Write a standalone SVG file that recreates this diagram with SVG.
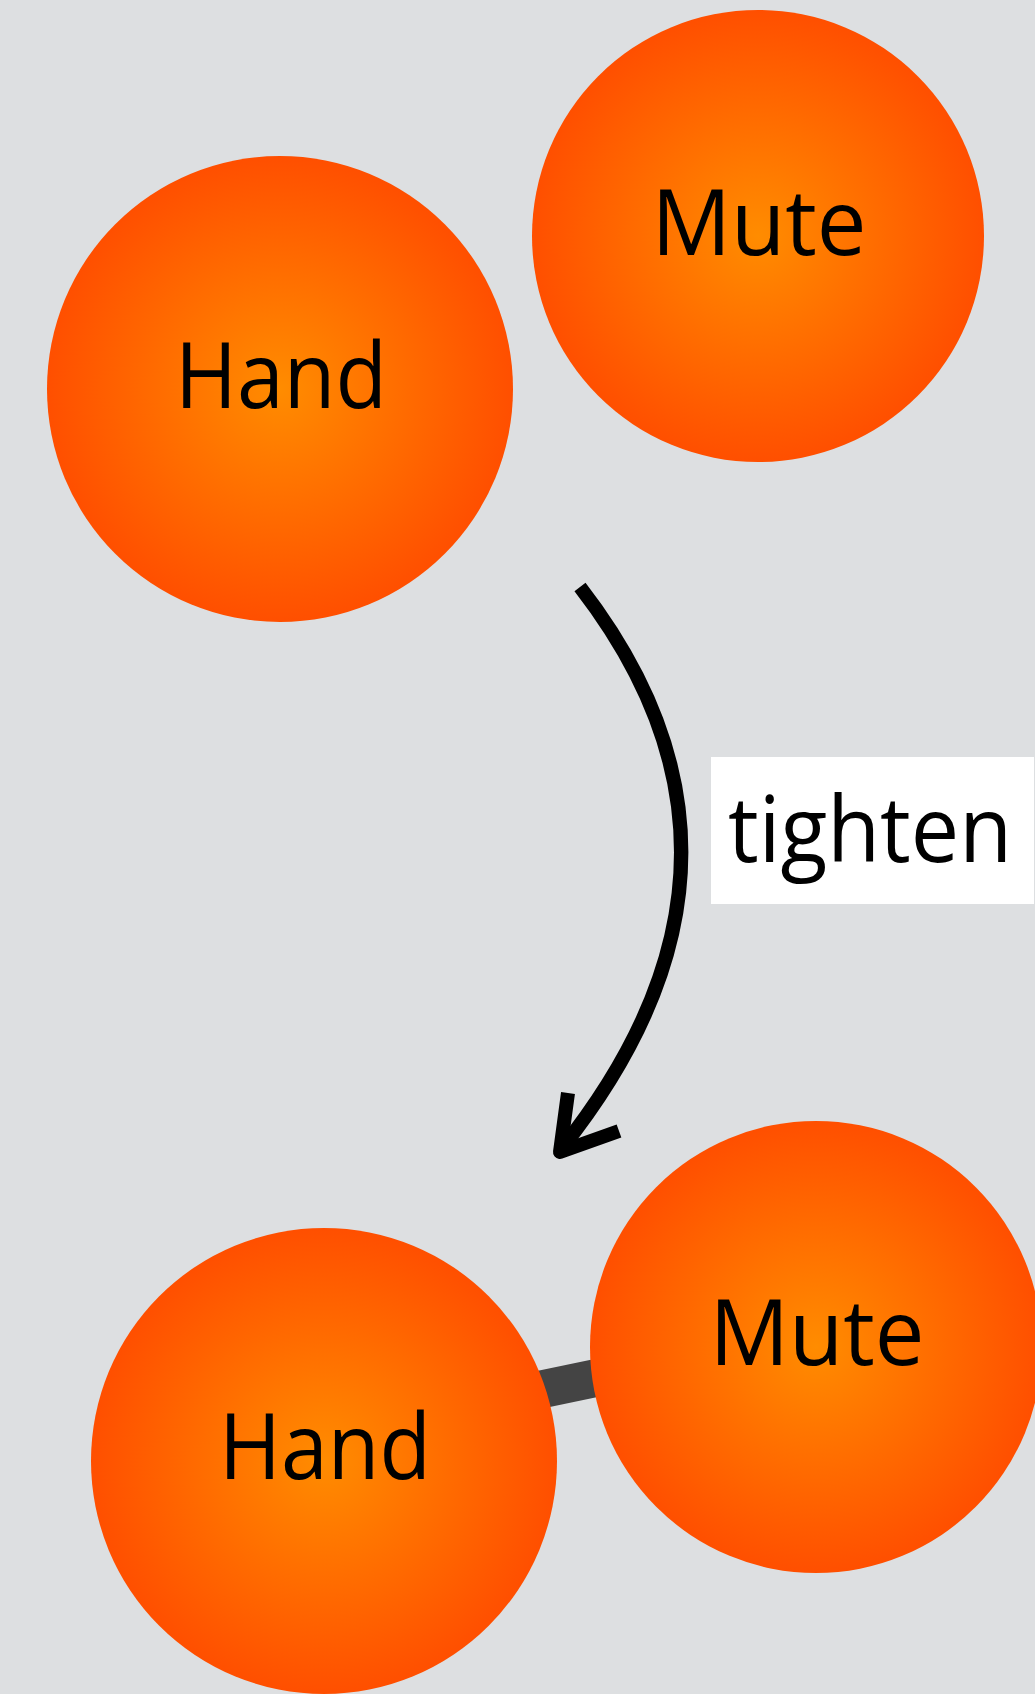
<svg xmlns="http://www.w3.org/2000/svg" width="1035" height="1694" viewBox="0 0 1035 1694">
<defs>
<radialGradient id="g" cx="50%" cy="50%" r="50%">
<stop offset="0" stop-color="#FF8C00"/>
<stop offset="1" stop-color="#FF4F00"/>
</radialGradient>
<style>
.node{fill:url(#g)}
.lbl{font-family:"Open Sans","Noto Sans",sans-serif;font-size:92px;fill:#000;text-anchor:middle}
.arr{fill:none;stroke:#000;stroke-width:14}
</style>
</defs>
<rect width="1035" height="1694" fill="#DDDFE1"/>
<g id="connectors">
<line x1="500" y1="1398" x2="620" y2="1373" stroke="#444444" stroke-width="38"/>
<path class="arr" d="M580,587 Q791,860 562,1148"/>
<polyline class="arr" points="568,1093 560,1152 619,1131" stroke-linejoin="round" stroke-linecap="butt"/>
</g>
<g id="label-tighten">
<rect x="711" y="757" width="323" height="147" fill="#FFFFFF"/>
<text class="lbl" x="870" y="862" textLength="284" lengthAdjust="spacingAndGlyphs">tighten</text>
</g>
<g id="hand-top">
<circle class="node" cx="280" cy="389" r="233"/>
<text class="lbl" x="281" y="408" textLength="212" lengthAdjust="spacingAndGlyphs">Hand</text>
</g>
<g id="mute-top">
<circle class="node" cx="758" cy="236" r="226"/>
<text class="lbl" x="759" y="255" textLength="215" lengthAdjust="spacingAndGlyphs">Mute</text>
</g>
<g id="hand-bottom">
<circle class="node" cx="324" cy="1461" r="233"/>
<text class="lbl" x="325" y="1479" textLength="212" lengthAdjust="spacingAndGlyphs">Hand</text>
</g>
<g id="mute-bottom">
<circle class="node" cx="816" cy="1347" r="226"/>
<text class="lbl" x="817" y="1365" textLength="215" lengthAdjust="spacingAndGlyphs">Mute</text>
</g>
</svg>
